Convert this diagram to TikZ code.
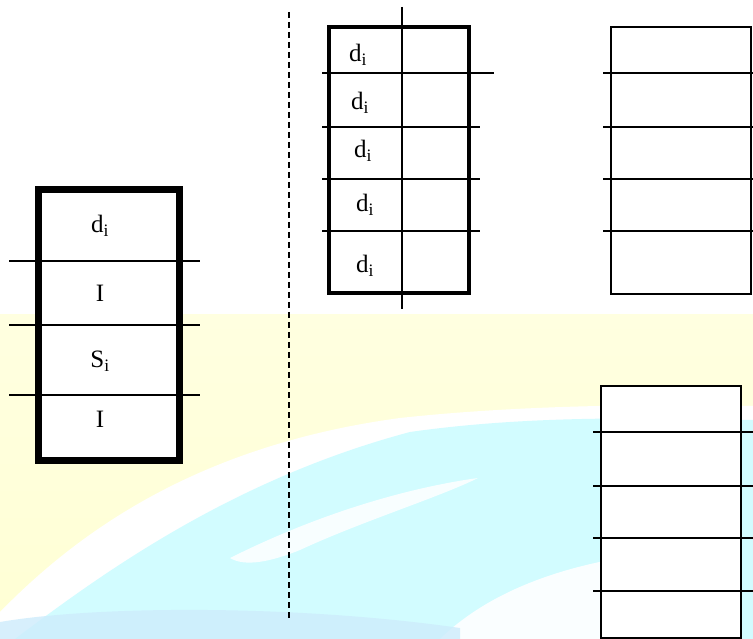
\documentclass[tikz,border=0pt]{standalone}
\usepackage{fontspec}
\setmainfont{Liberation Serif}
\definecolor{yel}{RGB}{255,255,224}
\definecolor{yel2}{RGB}{255,255,212}
\definecolor{cyn}{RGB}{210,252,255}
\definecolor{blu}{RGB}{205,236,252}
\begin{document}
\begin{tikzpicture}[x=1pt,y=-1pt,
  lab/.style={font=\fontsize{25}{28}\selectfont, inner sep=0pt, anchor=center},
  thickbox/.style={draw=black, fill=white, line width=7pt},
  medbox/.style={draw=black, fill=white, line width=4pt},
  thinbox/.style={draw=black, fill=white, line width=2.2pt},
  rule/.style={draw=black, line width=1.4pt},
  dashline/.style={draw=black, line width=1.2pt, dash pattern=on 6pt off 4pt}]
\useasboundingbox (0,0) rectangle (753,639);
% background
\fill[white] (0,0) rectangle (753,639);
\shade[top color=yel, bottom color=yel2] (0,315) rectangle (753,639);
\fill[white] (0,612) .. controls (80,530) and (200,445) .. (400,418)
  .. controls (520,405) and (650,404) .. (753,406) -- (753,639) -- (0,639) -- cycle;
\fill[cyn] (15,639) .. controls (100,575) and (230,480) .. (410,432)
  .. controls (530,415) and (650,418) .. (753,420) -- (753,639) -- cycle;
\fill[white, opacity=0.85] (230,558) .. controls (330,508) and (420,486) .. (478,478)
  .. controls (440,497) and (360,522) .. (300,550) .. controls (270,562) and (245,567) .. cycle;
\fill[white, opacity=0.9] (440,639) .. controls (480,600) and (540,572) .. (620,558)
  -- (620,639) -- cycle;
\fill[blu, opacity=0.8] (0,639) -- (0,622) .. controls (100,605) and (300,605) .. (460,628)
  -- (460,639) -- cycle;
% dashed separator
\coordinate (dtop) at (289,12);
\coordinate (dbot) at (289,620);
\draw[dashline] (dtop) -- (dbot);
% left box
\draw[thickbox] (38,190) rectangle (179,460);
\foreach \yy in {261,325,395} \draw[rule] (9,\yy) -- (200,\yy);
\node[lab] (l1) at (100,226) {d\textsubscript{i}};
\node[lab] (l2) at (100,293) {I};
\node[lab] (l3) at (100,361) {S\textsubscript{i}};
\node[lab] (l4) at (100,419) {I};
% middle box
\draw[medbox] (329,27) rectangle (469,293);
\draw[rule] (402,7) -- (402,309);
\draw[rule] (322,73) -- (494,73);
\foreach \yy in {127,179,231} \draw[rule] (322,\yy) -- (480,\yy);
\node[lab] (m1) at (358,55) {d\textsubscript{i}};
\node[lab] (m2) at (360,103) {d\textsubscript{i}};
\node[lab] (m3) at (363,151) {d\textsubscript{i}};
\node[lab] (m4) at (365,205) {d\textsubscript{i}};
\node[lab] (m5) at (365,266) {d\textsubscript{i}};
% top right box
\draw[thinbox] (611,27) rectangle (751,294);
\foreach \yy in {73,127,179,231} \draw[rule] (603,\yy) -- (753,\yy);
% bottom right box
\draw[thinbox] (601,386) rectangle (741,638);
\foreach \yy in {432,486,538,591} \draw[rule] (593,\yy) -- (753,\yy);
\end{tikzpicture}
\end{document}
